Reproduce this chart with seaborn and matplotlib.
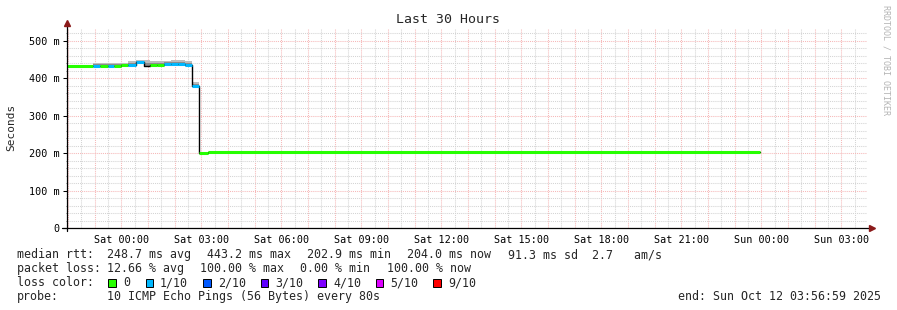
import numpy as np
import pandas as pd
import matplotlib
matplotlib.use("Agg")
import matplotlib.pyplot as plt
import matplotlib.dates as mdates
import matplotlib.ticker as mticker
from matplotlib.patches import Rectangle
import seaborn as sns

# ---------------- data ----------------
view_start = "2025-10-10 21:56:59"
view_end = "2025-10-12 03:56:59"

step_start = ["2025-10-10 21:57", "2025-10-10 22:57", "2025-10-10 23:13", "2025-10-10 23:29",
              "2025-10-10 23:44", "2025-10-11 00:00", "2025-10-11 00:16", "2025-10-11 00:32",
              "2025-10-11 00:50", "2025-10-11 01:05", "2025-10-11 01:21", "2025-10-11 01:37",
              "2025-10-11 01:52", "2025-10-11 02:08", "2025-10-11 02:24", "2025-10-11 02:40",
              "2025-10-11 02:55", "2025-10-11 03:14"]
data_end = "2025-10-11 23:58"
median_ms = [433, 433.5, 433, 433, 434, 436, 436, 442.7, 433, 436, 435, 439, 439, 439, 436, 379.6, 201, 203.5]
loss_bucket = ["0", "1/10", "0", "1/10", "0", "0", "1/10", "1/10", "", "0", "0", "1/10", "1/10",
               "1/10", "1/10", "1/10", "0", "0"]
smoke_low_ms = [432, 430, 431, 431, 431, 432, 431, 437, 431, 432, 432, 432, 433, 433, 433, 377, 200.5, 203]
smoke_high_ms = [436, 441, 441, 441, 442, 442, 446, 449, 448, 446, 446, 447, 450, 448, 446, 391, 201.5, 204]

loss_labels = ["0", "1/10", "2/10", "3/10", "4/10", "5/10", "9/10"]
loss_colors = ["#26ff00", "#00b8ff", "#0059ff", "#5e00ff", "#7e00ff", "#dd00ff", "#ff0000"]

title = "Last 30 Hours"
y_label = "Seconds"
stats_rtt = ["median rtt:", "248.7 ms avg", "443.2 ms max", "202.9 ms min", "204.0 ms now",
             "91.3 ms sd  2.7   am/s"]
stats_loss = ["packet loss:", "12.66 % avg", "100.00 % max", "0.00 % min", "100.00 % now"]
probe_text = ["probe:", "10 ICMP Echo Pings (56 Bytes) every 80s"]
end_text = "end: Sun Oct 12 03:56:59 2025"
watermark = "RRDTOOL / TOBI OETIKER"

# ---------------- figure ----------------
sns.set_theme(style="white")
plt.rcParams['font.family'] = ['DejaVu Sans Mono', 'DejaVu Sans']

W, H = 897, 310
fig = plt.figure(figsize=(W / 100, H / 100), dpi=100)
fig.patch.set_facecolor("white")
ax = fig.add_axes([66.7 / W, 1 - 228.3 / H, 800 / W, 200 / H])
ax.set_facecolor("white")

t = pd.to_datetime(step_start)
edges = list(t) + [pd.Timestamp(data_end)]
edges_num = mdates.date2num(edges)
med = np.array(median_ms) / 1000.0
low = np.array(smoke_low_ms) / 1000.0
high = np.array(smoke_high_ms) / 1000.0

# smoke
ax.fill_between(edges_num, np.append(low, low[-1]), np.append(high, high[-1]),
                step="post", color="#bdbdbd", lw=0, zorder=2)
in_low = (low + med) / 2
in_high = (high + med) / 2
ax.fill_between(edges_num, np.append(in_low, in_low[-1]), np.append(in_high, in_high[-1]),
                step="post", color="#8c8c8c", lw=0, zorder=2.5)

# median black step line (seaborn)
df = pd.DataFrame({"time": edges, "median": np.append(med, med[-1])})
sns.lineplot(data=df, x="time", y="median", drawstyle="steps-post", color="black",
             lw=1.0, ax=ax, zorder=4, estimator=None)

# loss coloured median segments
cmap = dict(zip(loss_labels, loss_colors))
for i, lb in enumerate(loss_bucket):
    if lb in cmap:
        ax.hlines(med[i], edges_num[i], edges_num[i + 1], colors=cmap[lb], lw=2.2, zorder=5)

# axes limits & ticks
ax.set_xlim(mdates.date2num(pd.Timestamp(view_start)), mdates.date2num(pd.Timestamp(view_end)))
ax.set_ylim(0, 0.5333)
ax.xaxis.set_major_locator(mdates.HourLocator(interval=1))
ax.xaxis.set_minor_locator(mdates.MinuteLocator(byminute=[30]))


def xfmt(x, pos):
    d = mdates.num2date(x)
    return d.strftime("%a %H:%M") if d.hour % 3 == 0 else ""


ax.xaxis.set_major_formatter(mticker.FuncFormatter(xfmt))
ax.yaxis.set_major_locator(mticker.MultipleLocator(0.1))
ax.yaxis.set_minor_locator(mticker.MultipleLocator(0.02))
ax.yaxis.set_major_formatter(mticker.FuncFormatter(
    lambda v, p: "0" if abs(v) < 1e-9 else f"{v * 1000:.0f} m"))

ax.grid(which="major", color="#f6b8b8", ls=(0, (1, 1)), lw=0.75)
ax.grid(which="minor", color="#d4d4d4", ls=(0, (1, 1)), lw=0.75)
ax.set_axisbelow(True)

ax.tick_params(axis="x", which="both", length=0, labelsize=7.3, pad=4.5, colors="black")
ax.tick_params(axis="y", which="major", length=3, width=0.75, direction="out",
               labelsize=7.3, pad=2, colors="black", left=True)
ax.tick_params(axis="y", which="minor", length=1.0, width=0.6, direction="out",
               colors="#555555", left=True)
ax.set_xlabel("")
ax.set_ylabel("")

for s in ax.spines.values():
    s.set_visible(False)

# axes with arrows
ax.plot([0, 0], [-0.015, 1.025], transform=ax.transAxes, color="black", lw=0.9,
        clip_on=False, zorder=6)
ax.plot([-0.006, 1.004], [0, 0], transform=ax.transAxes, color="black", lw=0.9,
        clip_on=False, zorder=6)
ax.plot([0], [1.025], marker="^", ms=4.5, color="#8b1a1a", transform=ax.transAxes,
        clip_on=False, zorder=7)
ax.plot([1.006], [0], marker=">", ms=4.5, color="#8b1a1a", transform=ax.transAxes,
        clip_on=False, zorder=7)

# texts
fig.text(448 / W, 1 - 19.5 / H, title, ha="center", va="center", fontsize=9.5)
fig.text(11 / W, 1 - 127 / H, y_label, rotation=90, ha="center", va="center", fontsize=8)
fig.text(886 / W, 1 - 5 / H, watermark, rotation=270, ha="center", va="top",
         fontsize=6.0, color="#b4b4b4")

fs = 8.4
rtt_x = [16.7, 107.3, 206.7, 306.7, 406.7, 508.3]
for s, x in zip(stats_rtt, rtt_x):
    fig.text(x / W, 1 - 254.5 / H, s, ha="left", va="center", fontsize=fs)
loss_x = [16.7, 107.3, 200, 300, 386.7]
for s, x in zip(stats_loss, loss_x):
    fig.text(x / W, 1 - 268.5 / H, s, ha="left", va="center", fontsize=fs)

fig.text(16.7 / W, 1 - 282.5 / H, "loss color:", ha="left", va="center", fontsize=fs)
box_x = [108.3, 146, 203.3, 261, 318.3, 375.7, 433.3]
lab_x = [123.3, 160, 217.7, 275.7, 333.3, 390, 448.3]
for lb, col, bx, lx in zip(loss_labels, loss_colors, box_x, lab_x):
    fig.patches.append(Rectangle((bx / W, 1 - 286.7 / H), 7.3 / W, 7.3 / H,
                                 transform=fig.transFigure, facecolor=col,
                                 edgecolor="black", lw=0.7))
    fig.text(lx / W, 1 - 282.5 / H, lb, ha="left", va="center", fontsize=fs)

fig.text(16.7 / W, 1 - 296.5 / H, probe_text[0], ha="left", va="center", fontsize=fs)
fig.text(107.3 / W, 1 - 296.5 / H, probe_text[1], ha="left", va="center", fontsize=fs)
fig.text(678.3 / W, 1 - 296.5 / H, end_text, ha="left", va="center", fontsize=fs)

fig.savefig("out.png", dpi=100, facecolor="white")
